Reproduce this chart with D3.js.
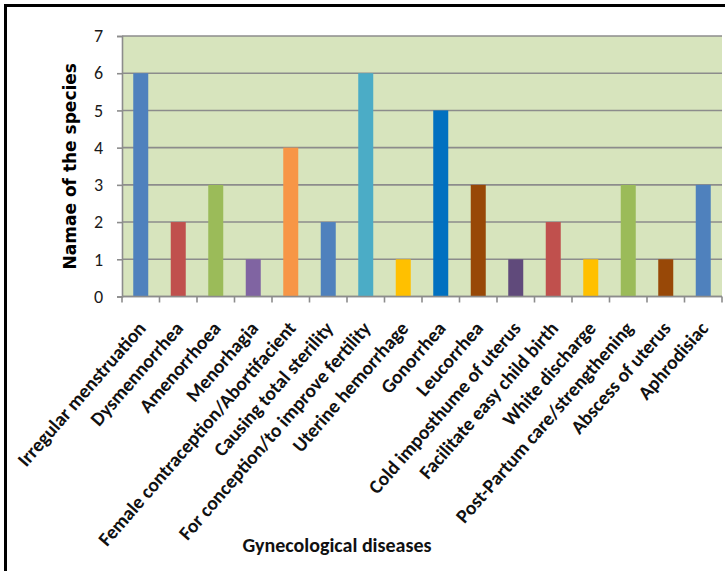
<!DOCTYPE html>
<html>
<head>
<meta charset="utf-8">
<script src="https://cdn.jsdelivr.net/npm/d3@7"></script>
<style>
  html, body { margin: 0; padding: 0; background: #fff; }
  svg { display: block; }
</style>
</head>
<body>
<script>
// Number of plant species used for each gynecological condition
const diseases = [
  "Irregular menstruation", "Dysmennorrhea", "Amenorrhoea", "Menorhagia",
  "Female contraception/Abortifacient", "Causing total sterility",
  "For conception/to improve fertility", "Uterine hemorrhage", "Gonorrhea",
  "Leucorrhea", "Cold imposthume of uterus", "Facilitate easy child birth",
  "White discharge", "Post-Partum care/strengthening", "Abscess of uterus",
  "Aphrodisiac"
];
const speciesCount = [6, 2, 3, 1, 4, 2, 6, 1, 5, 3, 1, 2, 1, 3, 1, 3];
const barColors = [
  "#4f81bd", "#c0504d", "#9bbb59", "#8064a2", "#f79646", "#4f81bd",
  "#4bacc6", "#ffc000", "#0070c0", "#984807", "#604a7b", "#c0504d",
  "#ffc000", "#9bbb59", "#984807", "#4f81bd"
];
const yTicks = [0, 1, 2, 3, 4, 5, 6, 7];

const W = 725, H = 571;
const plot = { left: 122, right: 722, top: 36, bottom: 296.5 };

const svg = d3.select("body").append("svg")
  .attr("width", W).attr("height", H);

// outer frame
svg.append("rect")
  .attr("x", 5.5).attr("y", 5.5)
  .attr("width", W + 20).attr("height", H + 20)
  .attr("fill", "none").attr("stroke", "#000").attr("stroke-width", 3);

const x = d3.scaleBand()
  .domain(diseases)
  .range([plot.left, plot.right])
  .paddingInner(0.6).paddingOuter(0.3);

const y = d3.scaleLinear()
  .domain([0, 7])
  .range([plot.bottom, plot.top]);

// plot background
svg.append("rect")
  .attr("x", plot.left).attr("y", plot.top)
  .attr("width", plot.right - plot.left).attr("height", plot.bottom - plot.top)
  .attr("fill", "#d7e4bd");

// horizontal gridlines
svg.append("g")
  .selectAll("line")
  .data(yTicks)
  .join("line")
  .attr("x1", plot.left).attr("x2", plot.right)
  .attr("y1", d => y(d)).attr("y2", d => y(d))
  .attr("stroke", "#8c8c8c").attr("stroke-width", 1.6);

// bars
svg.append("g")
  .selectAll("rect")
  .data(diseases)
  .join("rect")
  .attr("x", d => x(d))
  .attr("width", x.bandwidth())
  .attr("y", (d, i) => y(speciesCount[i]))
  .attr("height", (d, i) => y(0) - y(speciesCount[i]))
  .attr("fill", (d, i) => barColors[i]);

// y axis
const yAxis = svg.append("g")
  .attr("transform", `translate(${plot.left},0)`)
  .call(d3.axisLeft(y).tickValues(yTicks).tickFormat(d3.format("d")).tickSize(5).tickPadding(14));
yAxis.select(".domain").attr("stroke", "#8c8c8c").attr("stroke-width", 1.6);
yAxis.selectAll(".tick line").attr("stroke", "#8c8c8c").attr("stroke-width", 1.6);
yAxis.selectAll(".tick text")
  .attr("font-family", "Carlito, Calibri, Lato, sans-serif")
  .attr("font-size", 18).attr("fill", "#1a1a1a");

// x axis: ticks on category boundaries
const bounds = diseases.map(d => x(d) - x.step() * x.paddingInner() / 2).concat([plot.right]);
svg.append("g")
  .selectAll("line")
  .data(bounds)
  .join("line")
  .attr("x1", d => d).attr("x2", d => d)
  .attr("y1", plot.bottom).attr("y2", plot.bottom + 6)
  .attr("stroke", "#8c8c8c").attr("stroke-width", 1.6);
svg.append("line")
  .attr("x1", plot.left).attr("x2", plot.right)
  .attr("y1", plot.bottom).attr("y2", plot.bottom)
  .attr("stroke", "#8c8c8c").attr("stroke-width", 1.6);

// category labels, rotated
svg.append("g")
  .selectAll("text")
  .data(diseases)
  .join("text")
  .attr("transform", d => `translate(${x(d) + x.bandwidth() / 2 + 1},${plot.bottom + 28}) rotate(-49)`)
  .attr("text-anchor", "end")
  .attr("dy", "0.35em")
  .attr("font-family", "Carlito, Calibri, Lato, sans-serif")
  .attr("font-weight", "bold")
  .attr("font-size", 19.5)
  .attr("fill", "#111")
  .text(d => d);

// axis titles
svg.append("text")
  .attr("transform", `translate(76,${(plot.top + plot.bottom) / 2}) rotate(-90)`)
  .attr("text-anchor", "middle")
  .attr("font-family", "'DejaVu Sans', Verdana, sans-serif")
  .attr("font-weight", "bold")
  .attr("font-size", 17)
  .attr("fill", "#000")
  .text("Namae of the species");

svg.append("text")
  .attr("x", 337).attr("y", 552)
  .attr("text-anchor", "middle")
  .attr("font-family", "Carlito, Calibri, Lato, sans-serif")
  .attr("font-weight", "bold")
  .attr("font-size", 20)
  .attr("fill", "#111")
  .text("Gynecological diseases");
</script>
</body>
</html>
